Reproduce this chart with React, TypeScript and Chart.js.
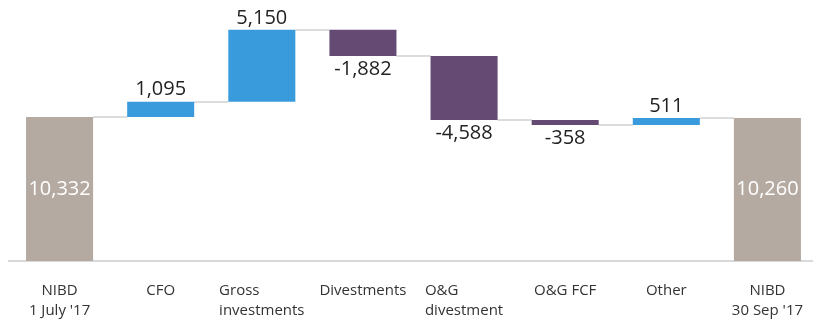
import React, { useEffect, useRef } from "react";
import { Chart, registerables } from "chart.js";

Chart.register(...registerables);

const categoryLines: string[][] = [
  ["NIBD", "1 July '17"],
  ["CFO"],
  ["Gross", "investments"],
  ["Divestments"],
  ["O&G", "divestment"],
  ["O&G FCF"],
  ["Other"],
  ["NIBD", "30 Sep '17"],
];
const centeredLabel: boolean[] = [true, true, false, true, false, true, true, true];
const values: number[] = [10332, 1095, 5150, -1882, -4588, -358, 511, 10260];
const isTotal: boolean[] = [true, false, false, false, false, false, false, true];

const TOTAL_COLOR = "#b5aaa2";
const POS_COLOR = "#3a9bdc";
const NEG_COLOR = "#654a74";
const CONNECTOR_COLOR = "#dcdcdc";
const FONT = "'Open Sans', sans-serif";

export default function App() {
  const ref = useRef<HTMLCanvasElement | null>(null);

  useEffect(() => {
    if (!ref.current) return;
    const ranges: [number, number][] = [];
    const ends: number[] = [];
    let cum = 0;
    values.forEach((v, i) => {
      if (isTotal[i]) {
        ranges.push([0, v]);
        cum = v;
      } else {
        ranges.push([cum, cum + v]);
        cum = cum + v;
      }
      ends.push(cum);
    });
    const colors = values.map((v, i) => (isTotal[i] ? TOTAL_COLOR : v >= 0 ? POS_COLOR : NEG_COLOR));

    const overlay = {
      id: "waterfallOverlay",
      beforeDatasetsDraw(chart: any) {
        const ctx = chart.ctx;
        const meta = chart.getDatasetMeta(0);
        const y = chart.scales.y;
        ctx.save();
        ctx.strokeStyle = CONNECTOR_COLOR;
        ctx.lineWidth = 2;
        for (let i = 0; i < meta.data.length - 1; i++) {
          const a = meta.data[i];
          const b = meta.data[i + 1];
          const yy = Math.round(y.getPixelForValue(ends[i]));
          ctx.beginPath();
          ctx.moveTo(a.x + a.width / 2, yy);
          ctx.lineTo(b.x - b.width / 2, yy);
          ctx.stroke();
        }
        ctx.restore();
      },
      afterDatasetsDraw(chart: any) {
        const ctx = chart.ctx;
        const meta = chart.getDatasetMeta(0);
        const y = chart.scales.y;
        ctx.save();
        ctx.textAlign = "center";
        ctx.textBaseline = "middle";
        ctx.font = `20px ${FONT}`;
        meta.data.forEach((bar: any, i: number) => {
          const r = ranges[i];
          const txt = values[i].toLocaleString("en-US");
          const top = y.getPixelForValue(Math.max(r[0], r[1]));
          const bottom = y.getPixelForValue(Math.min(r[0], r[1]));
          if (isTotal[i]) {
            ctx.fillStyle = "#ffffff";
            ctx.fillText(txt, bar.x, (top + bottom) / 2);
          } else if (values[i] >= 0) {
            ctx.fillStyle = "#222222";
            ctx.fillText(txt, bar.x, top - 12);
          } else {
            ctx.fillStyle = "#222222";
            ctx.fillText(txt, bar.x, bottom + 13);
          }
        });
        // category labels
        ctx.font = `15px ${FONT}`;
        ctx.fillStyle = "#333333";
        ctx.textBaseline = "alphabetic";
        const base = chart.chartArea.bottom + 34;
        meta.data.forEach((bar: any, i: number) => {
          const lines = categoryLines[i];
          const w = Math.max(...lines.map((l) => ctx.measureText(l).width));
          lines.forEach((l, j) => {
            if (centeredLabel[i]) {
              ctx.textAlign = "center";
              ctx.fillText(l, bar.x, base + j * 20);
            } else {
              ctx.textAlign = "left";
              ctx.fillText(l, bar.x - w / 2, base + j * 20);
            }
          });
        });
        ctx.restore();
      },
    };

    const chart = new Chart(ref.current, {
      type: "bar",
      data: {
        labels: categoryLines.map((l) => l.join(" ")),
        datasets: [
          {
            data: ranges as any,
            backgroundColor: colors,
            borderWidth: 0,
            borderSkipped: false,
            categoryPercentage: 1,
            barPercentage: 0.663,
          },
        ],
      },
      options: {
        animation: false,
        responsive: false,
        devicePixelRatio: 1,
        layout: { padding: { left: 9, right: 0, top: 10, bottom: 50 } },
        plugins: { legend: { display: false }, tooltip: { enabled: false } },
        scales: {
          x: {
            grid: { display: false },
            ticks: { display: false },
            border: { display: true, color: "#d9d9d9", width: 2 },
          },
          y: {
            display: false,
            min: 0,
            max: 18000,
          },
        },
      },
      plugins: [overlay],
    });
    return () => chart.destroy();
  }, []);

  return (
    <div style={{ position: "fixed", left: 0, top: 0, width: 813, height: 319, overflow: "hidden", background: "#fff" }}>
      <canvas ref={ref} width={818} height={319} style={{ display: "block" }} />
    </div>
  );
}
